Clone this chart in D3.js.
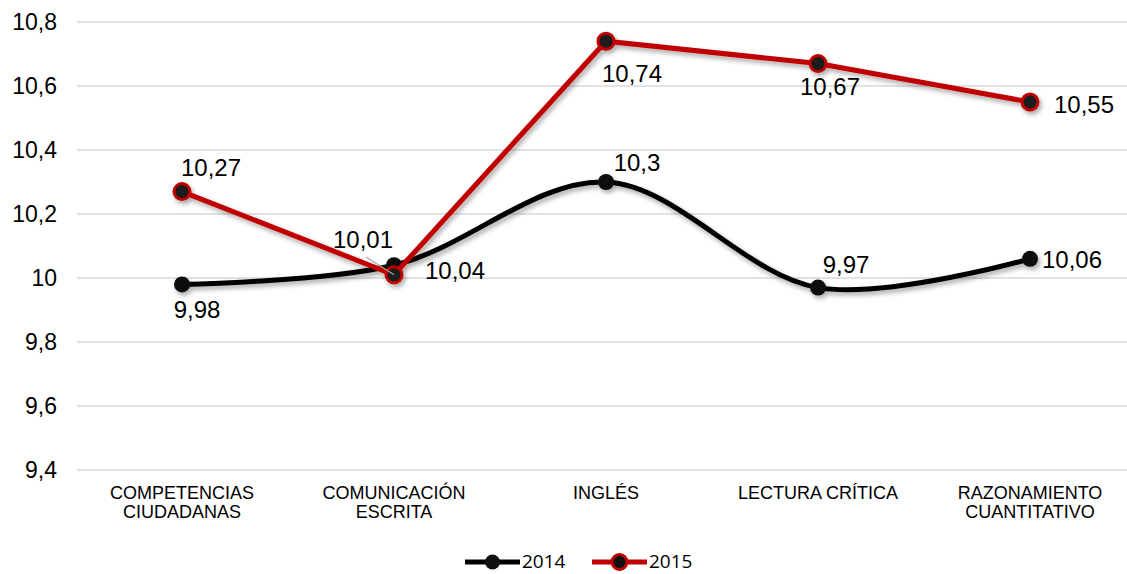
<!DOCTYPE html>
<html>
<head>
<meta charset="UTF-8" />
<title>Resultados 2014 - 2015</title>
<script src="https://d3js.org/d3.v7.min.js"></script>
<style type="text/css">
body {
    margin: 0;
    background-color: white;
    font-family: "Liberation Sans", Arial, sans-serif;
}
.grid line { stroke: #d9d9d9; stroke-width: 1.5; }
.tick-y { font-size: 23px; fill: #000; }
.cat { font-size: 18px; fill: #000; }
.lbl { font-size: 24px; fill: #000; }
.legend text { font-family: "Open Sans", "DejaVu Sans", sans-serif; font-size: 19px; fill: #000; }
</style>
</head>
<body>
<svg id="chart" width="1127" height="574"></svg>
<script type="text/javascript">
// categorias y valores
var categories = [["COMPETENCIAS", "CIUDADANAS"], ["COMUNICACIÓN", "ESCRITA"], ["INGLÉS"], ["LECTURA CRÍTICA"], ["RAZONAMIENTO", "CUANTITATIVO"]];
var values2014 = [9.98, 10.04, 10.3, 9.97, 10.06];
var values2015 = [10.27, 10.01, 10.74, 10.67, 10.55];
var yTicks = [9.4, 9.6, 9.8, 10, 10.2, 10.4, 10.6, 10.8];
var seriesNames = ["2014", "2015"];

var svg = d3.select("#chart");

var x = d3.scalePoint()
    .domain(d3.range(categories.length))
    .range([182, 1030]);

var y = d3.scaleLinear()
    .domain([9.4, 10.8])
    .range([470, 22]);

var fmt = function(v) { return String(v).replace(".", ","); };

// sombra para lineas y marcadores
var defs = svg.append("defs");
var f = defs.append("filter").attr("id", "shadow").attr("x", "-20%").attr("y", "-20%").attr("width", "140%").attr("height", "140%");
f.append("feDropShadow").attr("dx", 2).attr("dy", 3).attr("stdDeviation", 2.5).attr("flood-color", "#000").attr("flood-opacity", 0.35);

// lineas de cuadricula
var grid = svg.append("g").attr("class", "grid");
grid.selectAll("line").data(yTicks).enter().append("line")
    .attr("x1", 77).attr("x2", 1127)
    .attr("y1", function(d) { return y(d); })
    .attr("y2", function(d) { return y(d); });

// etiquetas eje y
svg.append("g").selectAll("text").data(yTicks).enter().append("text")
    .attr("class", "tick-y")
    .attr("x", 57)
    .attr("y", function(d) { return y(d); })
    .attr("dy", "0.35em")
    .attr("text-anchor", "end")
    .text(function(d) { return fmt(d); });

// etiquetas de categoria
var cat = svg.append("g").selectAll("text").data(categories).enter().append("text")
    .attr("class", "cat")
    .attr("text-anchor", "middle")
    .attr("x", function(d, i) { return x(i); })
    .attr("y", 499);
cat.selectAll("tspan").data(function(d) { return d; }).enter().append("tspan")
    .attr("x", function() { return d3.select(this.parentNode).attr("x"); })
    .attr("dy", function(d, j) { return j === 0 ? 0 : 19; })
    .text(function(d) { return d; });

// series
var line2014 = d3.line()
    .x(function(d, i) { return x(i); })
    .y(function(d) { return y(d); })
    .curve(d3.curveCatmullRom.alpha(0.5));

var line2015 = d3.line()
    .x(function(d, i) { return x(i); })
    .y(function(d) { return y(d); });

var g = svg.append("g").attr("filter", "url(#shadow)");

g.append("path").datum(values2014)
    .attr("d", line2014)
    .attr("fill", "none").attr("stroke", "#000").attr("stroke-width", 5);

g.selectAll("circle.s14").data(values2014).enter().append("circle")
    .attr("class", "s14")
    .attr("cx", function(d, i) { return x(i); })
    .attr("cy", function(d) { return y(d); })
    .attr("r", 8).attr("fill", "#111");

// linea guia 10,01
svg.append("line")
    .attr("x1", 366).attr("y1", 257).attr("x2", x(1)).attr("y2", y(10.01))
    .attr("stroke", "#a6a6a6").attr("stroke-width", 1.2);

g.append("path").datum(values2015)
    .attr("d", line2015)
    .attr("fill", "none").attr("stroke", "#c00000").attr("stroke-width", 5);

g.selectAll("circle.s15").data(values2015).enter().append("circle")
    .attr("class", "s15")
    .attr("cx", function(d, i) { return x(i); })
    .attr("cy", function(d) { return y(d); })
    .attr("r", 8).attr("fill", "#1a1a1a").attr("stroke", "#c00000").attr("stroke-width", 3);

// etiquetas de datos (desplazamientos)
var off2014 = [[15, 25], [61, 5], [31, -19], [28, -23], [42, 1]];
var off2015 = [[29, -24], [-31, -35], [26, 32], [12, 23], [54, 3]];

svg.append("g").selectAll("text").data(values2014).enter().append("text")
    .attr("class", "lbl").attr("text-anchor", "middle")
    .attr("x", function(d, i) { return x(i) + off2014[i][0]; })
    .attr("y", function(d, i) { return y(d) + off2014[i][1]; })
    .attr("dy", "0.35em")
    .text(function(d) { return fmt(d); });

svg.append("g").selectAll("text").data(values2015).enter().append("text")
    .attr("class", "lbl").attr("text-anchor", "middle")
    .attr("x", function(d, i) { return x(i) + off2015[i][0]; })
    .attr("y", function(d, i) { return y(d) + off2015[i][1]; })
    .attr("dy", "0.35em")
    .text(function(d) { return fmt(d); });

// leyenda
var legend = svg.append("g").attr("class", "legend");
var legX = [465, 592];
var legColors = ["#000", "#c00000"];
seriesNames.forEach(function(name, i) {
    var lg = legend.append("g").attr("transform", "translate(" + legX[i] + ",562)");
    lg.append("line").attr("x1", 0).attr("x2", 55).attr("y1", 0).attr("y2", 0)
        .attr("stroke", legColors[i]).attr("stroke-width", 5);
    lg.append("circle").attr("cx", 27.5).attr("cy", 0).attr("r", 7.5)
        .attr("fill", "#111")
        .attr("stroke", i === 1 ? "#c00000" : "none").attr("stroke-width", 3);
    lg.append("text").attr("x", 57).attr("y", 0).attr("dy", "0.33em").text(name);
});
</script>
</body>
</html>
